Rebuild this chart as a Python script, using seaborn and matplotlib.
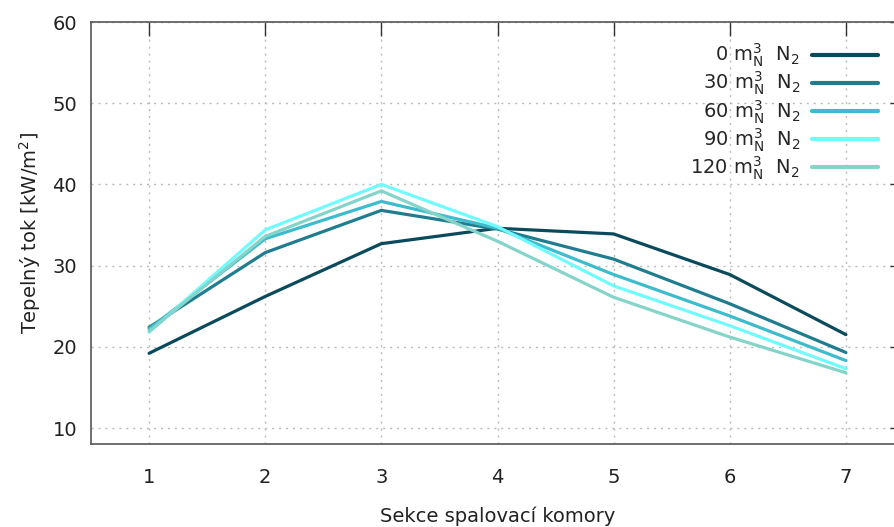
import numpy as np
import pandas as pd
import matplotlib
matplotlib.use("Agg")
import matplotlib.pyplot as plt
import seaborn as sns

# Heat flux along the combustion chamber sections for different N2 flows
sections = [1, 2, 3, 4, 5, 6, 7]
flux_0 = [19.2, 26.2, 32.7, 34.6, 33.9, 28.9, 21.5]
flux_30 = [22.4, 31.6, 36.8, 34.5, 30.8, 25.3, 19.3]
flux_60 = [22.2, 33.3, 37.9, 34.6, 28.9, 23.8, 18.3]
flux_90 = [21.8, 34.4, 40.0, 34.8, 27.5, 22.6, 17.3]
flux_120 = [21.9, 33.6, 39.2, 33.0, 26.1, 21.2, 16.8]
flows = ["0", "30", "60", "90", "120"]
colors = ["#0b4a5c", "#1f7d8f", "#3cbccc", "#70fbff", "#85d4ca"]

series = [flux_0, flux_30, flux_60, flux_90, flux_120]
labels = [rf"{f} $\mathregular{{m_N^3}}$  $\mathregular{{N_2}}$" for f in flows]
df = pd.DataFrame({
    "sekce": sections * len(series),
    "tok": [v for s in series for v in s],
    "prutok": [lab for lab in labels for _ in sections],
})

sns.set_style("white")
plt.rcParams["font.family"] = ["DejaVu Sans"]
plt.rcParams["mathtext.default"] = "regular"

FS = 14

fig = plt.figure(figsize=(8.94, 5.27), dpi=100)
ax = fig.add_axes([91 / 894, 1 - 444 / 527, (904 - 91) / 894, (444 - 22) / 527])

sns.lineplot(data=df, x="sekce", y="tok", hue="prutok", hue_order=labels,
             palette=colors, linewidth=2.3, ax=ax, legend=True)

ax.set_xlim(0.5, 7.5)
ax.set_ylim(8.03, 60)
ax.set_xticks(sections)
ax.set_yticks([10, 20, 30, 40, 50, 60])

ax.grid(True, color="#bbbbbb", linestyle=(0, (1.5, 3.5)), linewidth=1.0)
for side in ["left", "bottom", "right", "top"]:
    ax.spines[side].set_visible(True)
    ax.spines[side].set_color("#555555")
    ax.spines[side].set_linewidth(1.2)

ax.tick_params(axis="both", direction="in", length=10, width=1.0, color="#333333",
               labelsize=FS, labelcolor="#222222", top=True, right=True)
ax.tick_params(axis="x", pad=17)
ax.tick_params(axis="y", pad=10)

ax.set_xlabel("Sekce spalovací komory", fontsize=FS, color="#222222", labelpad=14.5)
ax.set_ylabel(r"Tepelný tok [kW/m$^2$]", fontsize=FS, color="#222222", labelpad=7)

handles, labs = ax.get_legend_handles_labels()
leg = ax.legend(handles, labs, loc="upper right", bbox_to_anchor=(0.968, 0.953),
                frameon=False, markerfirst=False, fontsize=FS, borderpad=0,
                borderaxespad=0, handlelength=3.4, handletextpad=0.6,
                labelspacing=0.04)
for line in leg.get_lines():
    line.set_linewidth(3.0)

fig.savefig("out.png", dpi=100)
